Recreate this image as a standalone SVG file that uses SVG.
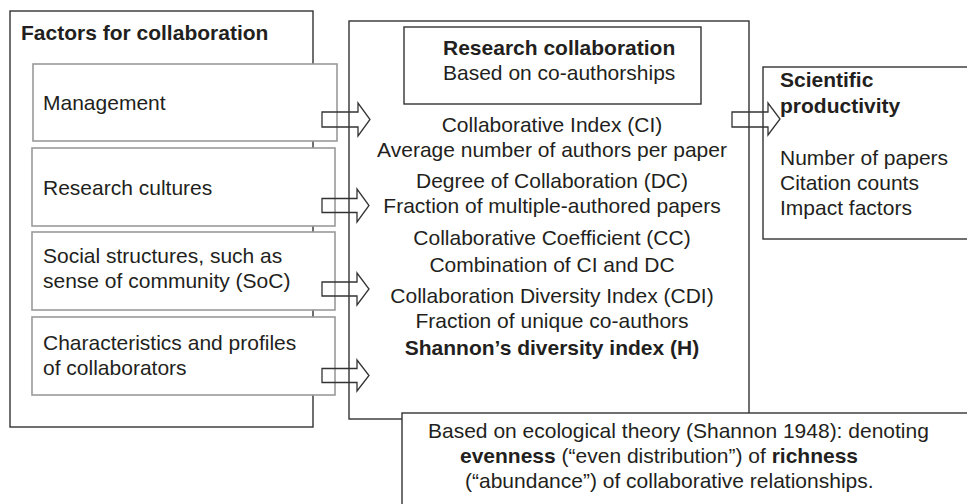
<svg xmlns="http://www.w3.org/2000/svg" width="967" height="504" viewBox="0 0 967 504">
<style>
  text { font-family: "Liberation Sans", Arial, sans-serif; font-size: 21px; fill: #231f20; }
  .b { font-weight: bold; }
  .c { text-anchor: middle; }
  .outer { fill: #fff; stroke: #333; stroke-width: 1.4; }
  .inner { fill: #fff; stroke: #9a9a9a; stroke-width: 1.6; }
  .arrow { fill: none; stroke: #333; stroke-width: 1.3; stroke-linejoin: miter; }
</style>
<rect width="967" height="504" fill="#fff"/>

<g id="factors">
  <rect class="outer" x="10" y="11" width="303" height="416"/>
  <text class="b" x="21" y="40">Factors for collaboration</text>
</g>
<g id="management">
  <rect class="inner" x="33" y="64" width="304" height="77"/>
  <text x="43" y="110">Management</text>
</g>
<g id="research-cultures">
  <rect class="inner" x="32" y="148" width="303" height="78"/>
  <text x="43" y="195">Research cultures</text>
</g>
<g id="social-structures">
  <rect class="inner" x="32" y="232" width="303" height="78"/>
  <text x="43" y="263">Social structures, such as</text>
  <text x="43" y="288">sense of community (SoC)</text>
</g>
<g id="characteristics">
  <rect class="inner" x="32" y="317" width="303" height="78"/>
  <text x="43" y="350">Characteristics and profiles</text>
  <text x="43" y="375">of collaborators</text>
</g>

<g id="research-collaboration">
  <rect class="outer" x="349" y="21" width="400" height="398"/>
  <rect class="outer" x="404" y="27" width="297" height="77"/>
  <text class="b" x="443" y="55">Research collaboration</text>
  <text x="443" y="80">Based on co-authorships</text>
  <text class="c" x="552" y="132">Collaborative Index (CI)</text>
  <text class="c" x="552" y="157">Average number of authors per paper</text>
  <text class="c" x="552" y="188">Degree of Collaboration (DC)</text>
  <text class="c" x="552" y="213">Fraction of multiple-authored papers</text>
  <text class="c" x="552" y="245">Collaborative Coefficient (CC)</text>
  <text class="c" x="552" y="272">Combination of CI and DC</text>
  <text class="c" x="552" y="303">Collaboration Diversity Index (CDI)</text>
  <text class="c" x="552" y="328">Fraction of unique co-authors</text>
  <text class="c b" x="552" y="355">Shannon’s diversity index (H)</text>
</g>

<g id="scientific-productivity">
  <rect class="outer" x="763" y="67" width="220" height="172"/>
  <text class="b" x="780" y="87">Scientific</text>
  <text class="b" x="780" y="113">productivity</text>
  <text x="780" y="165">Number of papers</text>
  <text x="780" y="190">Citation counts</text>
  <text x="780" y="215">Impact factors</text>
</g>

<g id="shannon-note">
  <rect class="outer" x="402" y="413" width="600" height="110"/>
  <text x="428" y="438">Based on ecological theory (Shannon 1948): denoting</text>
  <text x="460" y="463"><tspan class="b">evenness</tspan> (“even distribution”) of <tspan class="b">richness</tspan></text>
  <text x="465" y="488">(“abundance”) of collaborative relationships.</text>
</g>

<g id="connectors">
  <path class="arrow" d="M322 112 H358 V103 L370 119.5 L358 136 V127 H322 Z"/>
  <path class="arrow" d="M322 198.5 H357 V189 L369 205.5 L357 222 V212.5 H322 Z"/>
  <path class="arrow" d="M322 282 H357 V273 L369 289 L357 305 V296 H322 Z"/>
  <path class="arrow" d="M322 368.5 H357 V360 L369 375.5 L357 391 V382.5 H322 Z"/>
  <path class="arrow" d="M732 112 H768 V103 L780 119 L768 135 V127 H732 Z"/>
</g>
</svg>
